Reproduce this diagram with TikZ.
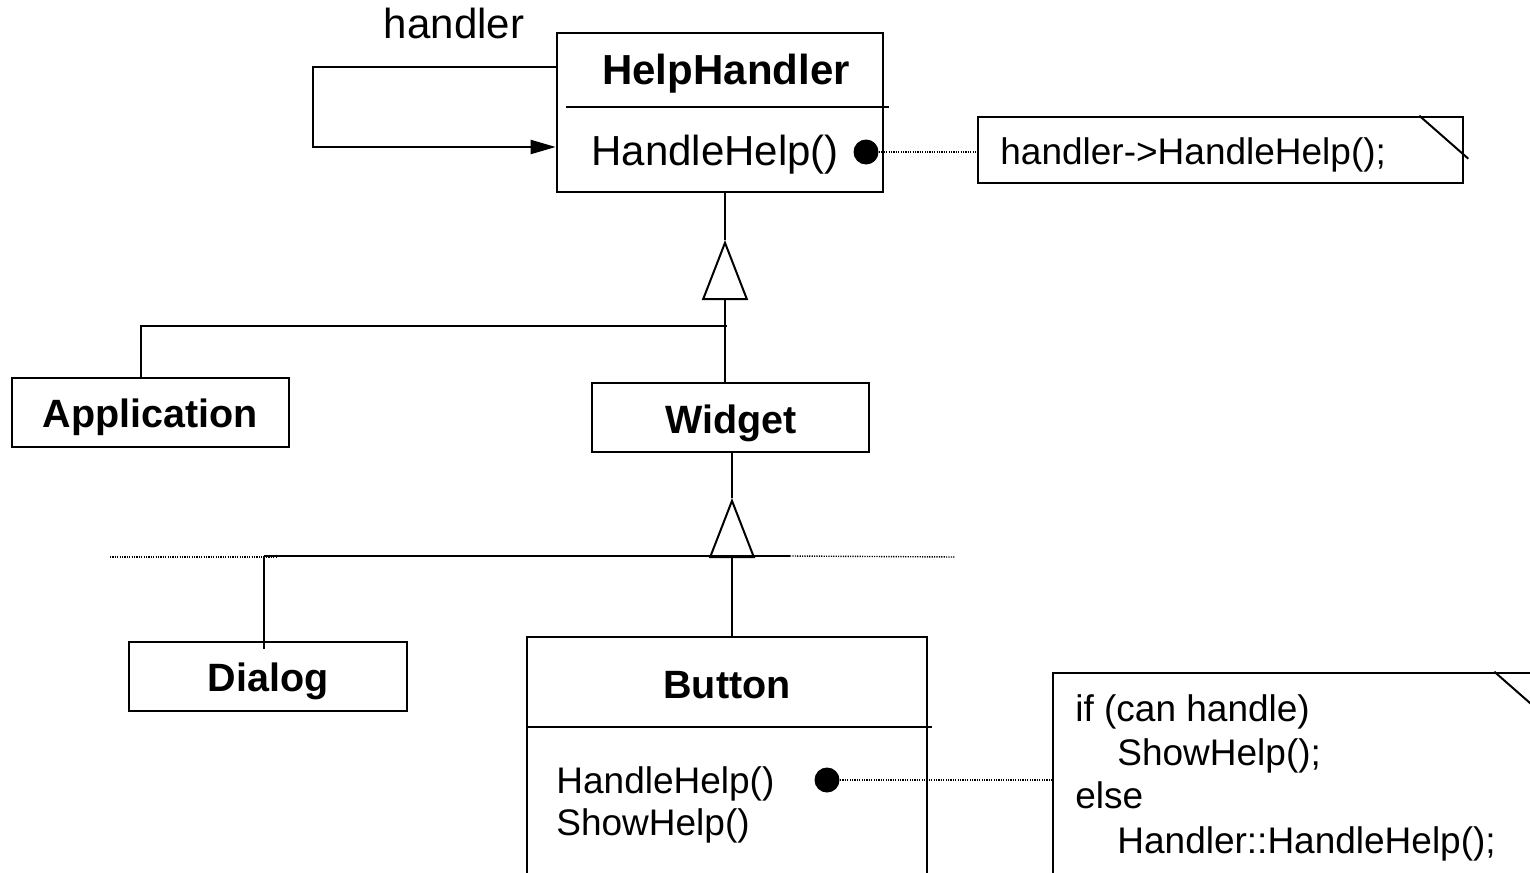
\documentclass[tikz,border=0pt]{standalone}
\usepackage{fontspec}
\setmainfont{Liberation Sans}
\usetikzlibrary{positioning, arrows.meta}

\begin{document}
\begin{tikzpicture}[x=0.5pt, y=-0.5pt,
  every node/.style={inner sep=0pt},
  classbox/.style={draw, line width=1.3pt, minimum width=138.5pt, minimum height=34.5pt},
  cname/.style={font=\fontsize{19.75}{24}\selectfont\bfseries, anchor=base},
  big/.style={font=\fontsize{21}{25}\selectfont},
  code/.style={font=\fontsize{18.5}{22}\selectfont, anchor=base west},
  hdot/.style={circle, fill, minimum size=12.5pt},
  link/.style={line width=1pt},
  inherit/.style={link, -{Triangle[open, length=30pt, width=23pt]}},
  assoc/.style={link, -{Triangle[length=12.5pt, width=7pt]}},
  noteline/.style={line width=0.7pt, dash pattern=on 0.6pt off 0.6pt}]
\useasboundingbox (0,0) rectangle (1530,872);
\clip (0,0) rectangle (1530,872);

\node[classbox, minimum width=163pt, minimum height=79.5pt] (hh) at (720,112.5) {};
\node[big, font=\fontsize{21}{25}\selectfont\bfseries, anchor=base] (hhname) at (726,85) {HelpHandler};
\draw[line width=1.3pt] (566,107) -- (889,107);
\node[big, anchor=base west] (hhop) at (591,165) {HandleHelp()};
\node[hdot] (hhdot) at (866,152) {};
\node[big, anchor=base] (hlabel) at (454,39) {handler};
\draw[assoc] (hh.west |- 0,67) -- ++(-243,0) |- (hh.west |- 0,147);

\node[classbox, minimum width=242.5pt, minimum height=33pt] (note1) at (1220.5,150) {};
\draw[link] ([xshift=-22.5pt]note1.north east) -- ++(49,43);
\node[code] (n1text) at (1000,164) {handler->HandleHelp();};
\draw[noteline] (hhdot) -- (hhdot -| note1.west);

\node[classbox] (app) at (150.5,412.5) {};
\node[cname] (appname) at (150.5,427) {Application};
\node[classbox] (widget) at (730.5,417.5) {};
\node[cname] (widgetname) at (731,433) {Widget};

\coordinate (tri1) at (725,240);
\coordinate (j1) at (727,326);
\draw[link] (tri1 |- hh.south) -- (tri1);
\draw[inherit] (tri1 |- widget.north) -- (tri1);
\draw[link] ([xshift=-5pt]app.north) |- (j1);

\node[classbox, minimum width=139pt] (dialog) at (268,676.5) {};
\node[cname] (dialogname) at (268,691) {Dialog};
\node[classbox, minimum width=200pt, minimum height=131.5pt] (button) at (727,768.5) {};
\node[cname] (buttonname) at (727,698) {Button};
\draw[line width=1.3pt] (527,727) -- (932,727);
\node[code] (bop1) at (556,793) {HandleHelp()};
\node[code] (bop2) at (556,835) {ShowHelp()};
\node[hdot] (bdot) at (827,780) {};

\coordinate (tri2) at (732,498);
\coordinate (j2) at (264,556);
\coordinate (j2r) at (790,556);
\draw[link] (tri2 |- widget.south) -- (tri2);
\draw[inherit] (tri2 |- button.north) -- (tri2);
\draw[link] (j2) -- (j2r);
\draw[link] (j2) -- ([yshift=-4pt]dialog.north -| j2);
\draw[noteline] (110,557) -- (276,557);
\draw[noteline] (j2r) -- (955,557);

\node[classbox, minimum width=242.5pt, minimum height=138.5pt] (note2) at (1295.5,811.5) {};
\draw[link] ([xshift=-22.5pt]note2.north east) -- ++(49,43);
\node[code] (n2l1) at (1075,721) {if (can handle)};
\node[code] (n2l2) at (1117,765) {ShowHelp();};
\node[code] (n2l3) at (1075,808) {else};
\node[code] (n2l4) at (1117,853) {Handler::HandleHelp();};
\draw[noteline] (bdot) -- (bdot -| note2.west);
\end{tikzpicture}
\end{document}
